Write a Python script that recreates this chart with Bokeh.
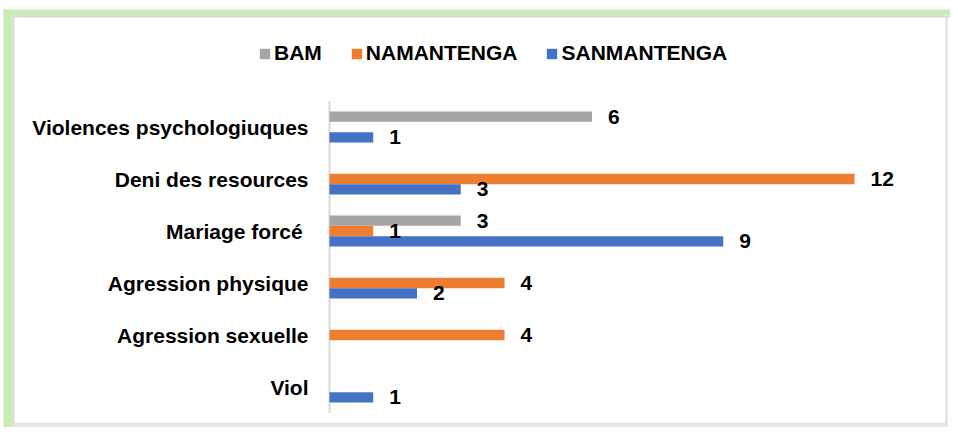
from bokeh.plotting import figure
from bokeh.models import (ColumnDataSource, Range1d, LabelSet, Legend, LegendItem,
                          BoxAnnotation)
from bokeh.core.properties import value
from bokeh.transform import dodge
from bokeh.embed import file_html
from bokeh.resources import INLINE

categories = ["Violences psychologiuques", "Deni des resources", "Mariage forcé ",
              "Agression physique", "Agression sexuelle", "Viol"]
series_names = ["BAM", "NAMANTENGA", "SANMANTENGA"]
bam = [6, None, 3, None, None, None]
namantenga = [None, 12, 1, 4, 4, None]
sanmantenga = [1, 3, 9, 2, None, 1]

colors = ["#a5a5a5", "#ed7d31", "#4472c4"]
offsets = [0.2, 0.0, -0.2]
FONT = "Liberation Sans"
FS = "21px"

W, H = 950, 427
X0PX, XSCALE = 329, 43.75      # pixel of value 0, pixels per unit
Y0PX, YSCALE = 386.5, 52.0     # pixel of lowest category, pixels per category

p = figure(width=W, height=H,
           x_range=Range1d(-X0PX / XSCALE, (W - X0PX) / XSCALE),
           y_range=Range1d((Y0PX - H) / YSCALE, Y0PX / YSCALE),
           min_border=0, output_backend="svg", toolbar_location=None)
p.outline_line_color = None
p.grid.visible = False
p.axis.visible = False

n = len(categories)
pos = [n - 1 - i for i in range(n)]   # first category at top

# category axis (line + labels)
p.segment(x0=[0], y0=[-0.5], x1=[0], y1=[n - 0.5], line_color="#d9d9d9", line_width=2)
cat_src = ColumnDataSource(dict(pos=pos, name=categories, zero=[0] * n))
p.add_layout(LabelSet(x="zero", y="pos", text="name", source=cat_src, x_offset=-21,
                      text_align="right", text_baseline="middle", text_font=value(FONT),
                      text_font_style="bold", text_font_size=FS, text_color="black"))

items = []
for name, vals, col, off in zip(series_names, [bam, namantenga, sanmantenga], colors, offsets):
    pp = [q for q, v in zip(pos, vals) if v is not None]
    vv = [v for v in vals if v is not None]
    src = ColumnDataSource(dict(pos=pp, val=vv, txt=[str(v) for v in vv]))
    r = p.hbar(y=dodge("pos", off), left=0, right="val", height=0.2,
               source=src, fill_color=col, line_color=None)
    p.add_layout(LabelSet(x="val", y=dodge("pos", off), text="txt", source=src,
                          x_offset=16, text_baseline="middle", text_font=value(FONT),
                          text_font_style="bold", text_font_size=FS, text_color="black"))
    items.append(LegendItem(label=name, renderers=[r]))

legend = Legend(items=items, orientation="horizontal", location=(258, 362),
                glyph_width=13, glyph_height=13, label_standoff=3, spacing=28,
                padding=0, margin=0, border_line_color=None, background_fill_color=None,
                label_text_font=FONT, label_text_font_style="bold", label_text_font_size=FS,
                label_text_color="black")
p.add_layout(legend)

# chart frame: green glow top/left, grey shadow lines (screen y counts from bottom)
def band(l, r, t, b, c):
    p.add_layout(BoxAnnotation(left=l, right=r, top=H - t, bottom=H - b,
                               left_units="screen", right_units="screen",
                               top_units="screen", bottom_units="screen",
                               fill_color=c, fill_alpha=1, line_color=None))

band(3, W, 9, 15, "#c9ebb6")
band(3, 12, 9, H, "#c9ebb6")
band(12, W, 15, 17, "#d9d9d9")
band(12, 14, 15, H, "#d9d9d9")
band(945, 947, 17, H, "#dcdcdc")
band(14, 947, 422, H, "#e6e6e6")

open("out.html", "w").write(file_html(p, INLINE))
